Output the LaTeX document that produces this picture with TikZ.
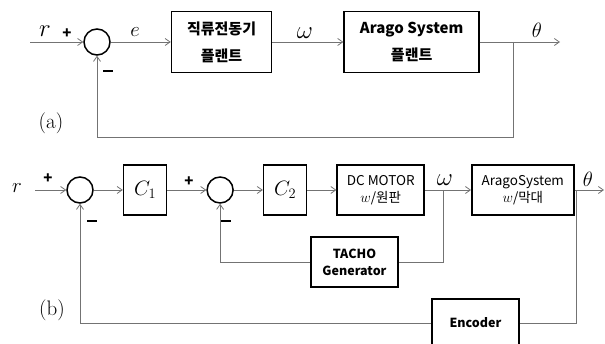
\documentclass[tikz,border=0pt]{standalone}
\usepackage{fontspec}
\newfontfamily\kor{Noto Sans CJK KR}
\usetikzlibrary{positioning,arrows.meta}

\begin{document}
\begin{tikzpicture}[
  x=1pt, y=-1pt,
  node distance=29pt,
  blk/.style={draw=black,line width=1.6pt,inner sep=0pt,align=center,
              minimum height=50pt,font=\kor\fontsize{13.5}{17}\selectfont},
  bblk/.style={blk,font=\kor\bfseries\fontsize{15}{27}\selectfont,minimum height=61pt},
  tblk/.style={blk,font=\kor\bfseries\fontsize{12.5}{17}\selectfont},
  sumpt/.style={draw=black,line width=1.5pt,circle,inner sep=0pt,minimum size=26pt},
  sig/.style={-{Straight Barb[length=5pt,width=7pt]},draw=black!55,line width=0.8pt},
  wire/.style={draw=black!55,line width=0.8pt},
  var/.style={font=\fontsize{22}{22}\selectfont,inner sep=0pt},
  sgn/.style={font=\kor\bfseries\fontsize{15}{15}\selectfont,inner sep=0pt},
  tag/.style={font=\fontsize{21}{21}\selectfont,inner sep=0pt}
]
\useasboundingbox (0,0) rectangle (605,344);
\clip (0,0) rectangle (605,344);

% (a)
\node[sumpt] (sa) at (97,42) {};
\node[bblk,minimum width=100pt,right=60pt of sa] (motA) {직류전동기\\플랜트};
\node[bblk,minimum width=135pt,right=71pt of motA] (araA) {Arago System\\플랜트};
\coordinate (inA) at (30,42);
\coordinate (thA) at (513,42);
\coordinate (endA) at (560,42);
\coordinate (fbA) at (513,137);
\draw[sig] (inA) -- (sa);
\draw[sig] (sa) -- (motA);
\draw[sig] (motA) -- (araA);
\draw[sig] (araA) -- (endA);
\draw[sig] (thA) -- (fbA) -| (sa);
\node[var,font=\fontsize{26}{26}\selectfont] (rA) at (45,31) {$r$};
\node[sgn] (pA) at (67,34) {+};
\node[sgn] (mA) at (108,71) {\rule{10pt}{2.2pt}};
\node[var] (eA) at (135,32) {$e$};
\node[var,font=\fontsize{24}{24}\selectfont] (wA) at (305,33) {$\omega$};
\node[var] (tA) at (537,30) {$\theta$};
\node[tag] (capA) at (51,123) {(a)};

% (b)
\node[sumpt] (s1) at (80,190) {};
\node[blk,minimum width=43pt,font=\fontsize{21}{21}\selectfont,right=29pt of s1] (c1) {$C_1$};
\node[sumpt,right=39pt of c1] (s2) {};
\node[blk,minimum width=43pt,font=\fontsize{21}{21}\selectfont,right=29pt of s2] (c2) {$C_2$};
\node[blk,minimum width=87pt,right=29pt of c2] (dcm) {DC MOTOR\\$w$/원판};
\node[blk,minimum width=102pt,right=46pt of dcm] (arb) {AragoSystem\\$w$/막대};
\node[tblk,minimum width=87pt] (tacho) at (354.5,262) {TACHO\\Generator};
\node[tblk,minimum width=87pt,minimum height=48pt] (enc) at (475.5,323) {Encoder};
\coordinate (inB) at (35,190);
\coordinate (wB) at (443,190);
\coordinate (thB) at (576,190);
\coordinate (endB) at (604,190);
\draw[sig] (inB) -- (s1);
\draw[sig] (s1) -- (c1);
\draw[sig] (c1) -- (s2);
\draw[sig] (s2) -- (c2);
\draw[sig] (c2) -- (dcm);
\draw[sig] (dcm) -- (arb);
\draw[sig] (arb) -- (endB);
\draw[wire] (wB) |- (tacho);
\draw[sig] (tacho) -| (s2);
\draw[wire] (thB) |- (enc);
\draw[sig] (enc) -| (s1);
\node[var] (rB) at (17,188) {$r$};
\node[sgn] (p1) at (48,179) {+};
\node[sgn] (p2) at (189,182) {+};
\node[sgn] (m1) at (92,221) {\rule{10pt}{2.2pt}};
\node[sgn] (m2) at (226,221) {\rule{10pt}{2.2pt}};
\node[var,font=\fontsize{24}{24}\selectfont] (wBl) at (445,180) {$\omega$};
\node[var] (tBl) at (588,179) {$\theta$};
\node[tag] (capB) at (52,310) {(b)};
\end{tikzpicture}
\end{document}
